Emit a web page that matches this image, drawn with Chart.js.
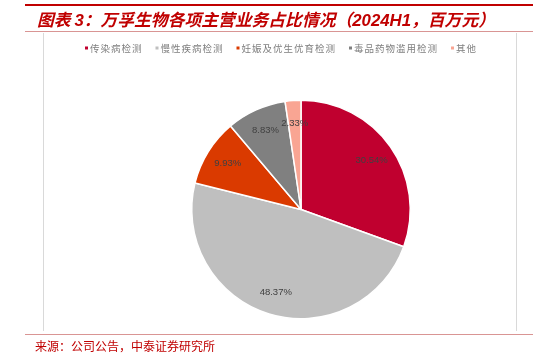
<!DOCTYPE html>
<html>
<head>
<meta charset="utf-8">
<script src="https://cdn.jsdelivr.net/npm/chart.js@4"></script>
<style>
    body { margin: 0; background: #fff; }
    #wrap { position: relative; width: 553px; height: 355px; overflow: hidden; font-family: "Noto Sans CJK SC", sans-serif; }
    #chart { position: absolute; left: 0; top: 0; }
    .line { position: absolute; left: 25px; width: 508px; }
    .vline { position: absolute; top: 33px; height: 298px; width: 1px; background: #d9d9d9; }
    #title { position: absolute; left: 37px; top: 8px; font-size: 16.8px; font-weight: bold; font-style: italic; color: #c00000; white-space: nowrap; line-height: 22px; }
    #title .num { font-family: "Liberation Sans", Arial, sans-serif; }
    #source { position: absolute; left: 35px; top: 338px; font-size: 12px; color: #c00000; white-space: nowrap; line-height: 16px; }
</style>
</head>
<body>
<div id="wrap">
    <canvas id="chart" width="553" height="355"></canvas>
    <div class="line" style="top:4px;height:2px;background:#c00000;"></div>
    <div id="title">图表 <span class="num">3</span>：万孚生物各项主营业务占比情况（<span class="num">2024H1</span>，百万元）</div>
    <div class="line" style="top:31px;height:1px;background:#d99594;"></div>
    <div class="vline" style="left:43px;"></div>
    <div class="vline" style="left:516px;"></div>
    <div class="line" style="top:334px;height:1px;background:#d99594;"></div>
    <div id="source">来源：公司公告，中泰证券研究所</div>
</div>
<script>
const categories = ['传染病检测', '慢性疾病检测', '妊娠及优生优育检测', '毒品药物滥用检测', '其他'];
const shares = [30.54, 48.37, 9.93, 8.83, 2.33];
const sliceColors = ['#c0002f', '#bfbfbf', '#da3a00', '#808080', '#f9a593'];

// legend drawn on top of the chart, centred on x = 281
const topLegend = {
    id: 'topLegend',
    afterDraw(chart) {
        const ctx = chart.ctx;
        const colors = chart.data.datasets[0].backgroundColor;
        ctx.save();
        ctx.font = '9.5px "Noto Sans CJK SC"';
        ctx.letterSpacing = '1px';
        ctx.textBaseline = 'middle';
        const widths = chart.data.labels.map(l => ctx.measureText(l).width);
        const total = widths.reduce((a, w) => a + w + 5, 0) + 13 * (widths.length - 1);
        let x = 281 - total / 2;
        const y = 48;
        chart.data.labels.forEach((label, i) => {
            ctx.fillStyle = colors[i];
            ctx.fillRect(x, y - 1.5, 3, 3);
            ctx.fillStyle = '#7f7f7f';
            ctx.fillText(label, x + 5, y);
            x += 5 + widths[i] + 13;
        });
        ctx.restore();
    }
};

const sliceLabels = {
    id: 'sliceLabels',
    afterDatasetsDraw(chart) {
        const ctx = chart.ctx;
        const meta = chart.getDatasetMeta(0);
        ctx.save();
        ctx.font = '9.5px "Liberation Sans", Arial, sans-serif';
        ctx.fillStyle = '#404040';
        ctx.textAlign = 'center';
        ctx.textBaseline = 'middle';
        meta.data.forEach((arc, i) => {
            const p = arc.getProps(['x', 'y', 'startAngle', 'endAngle', 'outerRadius'], true);
            const mid = (p.startAngle + p.endAngle) / 2;
            const r = p.outerRadius * 0.79;
            ctx.fillText(shares[i].toFixed(2) + '%', p.x + Math.cos(mid) * r, p.y + Math.sin(mid) * r);
        });
        ctx.restore();
    }
};

new Chart(document.getElementById('chart'), {
    type: 'pie',
    data: {
        labels: categories,
        datasets: [{
            data: shares,
            backgroundColor: sliceColors,
            borderColor: '#ffffff',
            borderWidth: 1.5
        }]
    },
    options: {
        responsive: false,
        animation: false,
        layout: { padding: { left: 191, right: 142, top: 99, bottom: 35 } },
        plugins: {
            legend: { display: false },
            tooltip: { enabled: false }
        }
    },
    plugins: [topLegend, sliceLabels]
});
</script>
</body>
</html>
